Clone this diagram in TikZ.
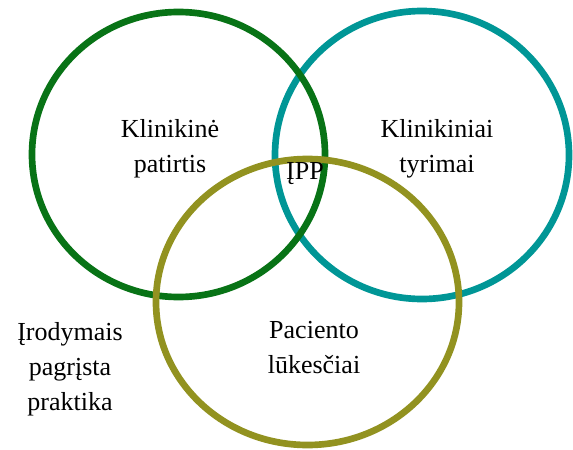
\documentclass[tikz,border=0pt]{standalone}
\usepackage{fontspec}
\setmainfont{Liberation Serif}
\tikzset{every picture/.style={line width=0.75pt}}
\tikzset{venn text/.style={align=center, anchor=base, font=\fontsize{19.5}{26.25}\selectfont}}

\begin{document}
\begin{tikzpicture}[x=0.75pt,y=0.75pt,yscale=-1,xscale=1]
\useasboundingbox (0,0) rectangle (573,449);

%Shape: Ellipse [id:dp4410286735021937] 
\draw [color={rgb, 255:red, 0; green, 150; blue, 150 }  ,draw opacity=1 ][line width=5]  (422,155) ellipse (147 and 144);
%Shape: Ellipse [id:dp9120348813057712] 
\draw [color={rgb, 255:red, 8; green, 115; blue, 22 }  ,draw opacity=1 ][line width=5]  (178.5,154.5) ellipse (146.5 and 142.5);
%Shape: Ellipse [id:dp2761055184902338] 
\draw [color={rgb, 255:red, 146; green, 146; blue, 32 }  ,draw opacity=1 ][line width=5]  (307.5,302) ellipse (151.5 and 143);

% Text Node
\draw (170,172) node [venn text] (patirtis) {Klinikinė\\patirtis};
% Text Node
\draw (437,172) node [venn text] (tyrimai) {Klinikiniai\\tyrimai};
% Text Node
\draw (305,179) node [venn text] (ipp) {ĮPP};
% Text Node
\draw (314,373) node [venn text] (lukesciai) {Paciento\\lūkesčiai};
% Text Node
\draw (70,410) node [venn text] (ipp-full) {Įrodymais\\pagrįsta\\praktika};
\end{tikzpicture}
\end{document}
